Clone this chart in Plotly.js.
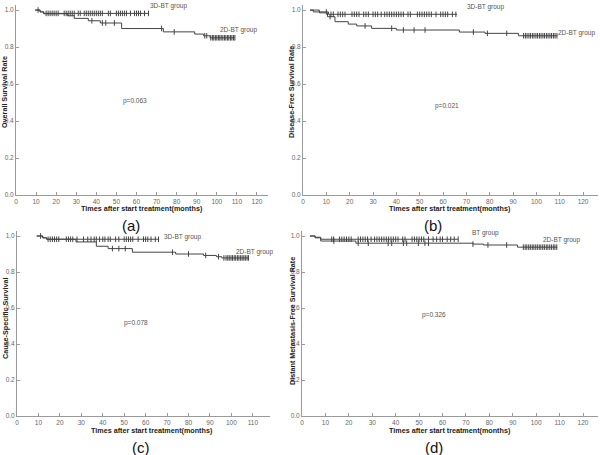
<!DOCTYPE html>
<html><head><meta charset="utf-8">
<script src="https://cdn.plot.ly/plotly-3.0.1.min.js"></script>
<style>html,body{margin:0;padding:0;background:#fff}#chart{width:600px;height:455px}</style>
</head><body><div id="chart"></div>
<script>
// ---- Panel (a): Overall Survival ----
const a3dTimes = [9.5, 12, 13.8, 66];
const a3dSurv  = [1.0, 0.99, 0.982, 0.982];
const a3dCens  = [11,15,16,17,18,19,20,21,24,25,26,27,28,29,31,32,34,35,36,37,38,39,40,41,42,43,46,47,50,51,52,53,54,55,57,59,60,61,62,64,66];
const a2dTimes = [9.5, 12, 13.8, 25.7, 29, 36, 42, 52.6, 73.4, 89, 93.4, 96.6, 109];
const a2dSurv  = [1.0, 0.99, 0.98, 0.969, 0.955, 0.942, 0.93, 0.9, 0.882, 0.87, 0.861, 0.85, 0.85];
const a2dCens  = [37.8,43,44.7,49,72.5,78.8,94,95,97,97.8,98.5,99.3,100,100.8,101.5,102.2,103,103.8,104.5,105.3,106,106.8,107.5,108.3,109];
// ---- Panel (b): Disease-Free Survival ----
const b3dTimes = [3, 4.4, 10.9, 66];
const b3dSurv  = [1.0, 0.99, 0.977, 0.977];
const b3dCens  = [10,12,13,15,16,17,18,21,22,23,24,26,27,28,30,31,32,33.5,35,36,37,38,39,40,41,42,43,45,46,49,50,51,52,53,54,55,57,59,60,61,62,64,65.5];
const b2dTimes = [3, 7, 10.5, 13.7, 19.4, 23, 29.4, 40, 67, 78, 92.3, 109];
const b2dSurv  = [1.0, 0.985, 0.964, 0.937, 0.924, 0.914, 0.901, 0.892, 0.881, 0.874, 0.861, 0.861];
const b2dCens  = [11.6,26.6,38,43,47.6,52.3,73,79,87.3,94.5,95.3,96,96.8,97.5,98.3,99,99.8,100.5,101.3,102,102.8,103.5,104.3,105,105.8,106.5,107.3,108,108.8];
// ---- Panel (c): Cause-Specific Survival ----
const c3dTimes = [9.2, 12, 13.8, 66.3];
const c3dSurv  = [1.0, 0.99, 0.982, 0.982];
const c3dCens  = [14.5,15.5,16.5,17.5,18.5,19.5,23,24,25,26,28,31,33,34.5,36,37,38.5,40,41,42.5,43.5,46,47.5,50,51,52,53,54,56.5,59,60,61,62.5,64.5,66];
const c2dTimes = [9.2, 12, 13.8, 27.5, 37, 42.5, 53.8, 74, 87, 93, 95.5, 108];
const c2dSurv  = [1.0, 0.99, 0.982, 0.967, 0.943, 0.93, 0.91, 0.9, 0.892, 0.885, 0.878, 0.878];
const c2dCens  = [11,44.5,47.5,50.5,72.5,80,88,94,96.5,97.5,98.3,99,99.8,100.5,101.3,102,102.8,103.5,104.3,105,105.8,106.5,107.3,108];
// ---- Panel (d): Distant Metastasis-Free Survival ----
const d3dTimes = [3.4, 5.6, 8, 66.7];
const d3dSurv  = [1.0, 0.993, 0.982, 0.982];
const d3dCens  = [12.7,13.5,16,17,18,19,20,21,24,25,26,27,28,29.5,31,32,33,34,35,36,37,38,39,40,41,43,44,47,48,49,50,51,52,54,56,57.5,59,60,62,63.5,65,66.7];
const d2dTimes = [3.4, 5.6, 8, 23, 73, 77.5, 92, 109];
const d2dSurv  = [1.0, 0.99, 0.972, 0.96, 0.955, 0.95, 0.938, 0.938];
const d2dCens  = [13.6,24,28.3,36.8,38.3,43.3,44.7,49.7,52.5,54,73,79.4,87.4,94.5,95.3,96,96.8,97.5,98.3,99,99.8,100.5,101.3,102,102.8,103.5,104.3,105,105.8,106.5,107.3,108,108.8];

const yTitles = ["Overall Survival Rate","Disease-Free Survival Rate","Cause-Specific Survival","Distant Metastasis-Free Survival Rate"];
const xTitle = "Times after start treatment(months)";
const panelLabels = ["(a)","(b)","(c)","(d)"];
const pValues = ["p=0.063","p=0.021","p=0.078","p=0.326"];
const groupA = ["3D-BT group","3D-BT group","3D-BT group","BT group"];
const groupB = ["2D-BT group","2D-BT group","2D-BT group","2D-BT group"];

function stepAt(times, surv, t){
  let v = surv[0];
  for(let i=0;i<times.length;i++){ if(times[i] <= t) v = surv[i]; }
  return v;
}

const W=600,H=455;
// pixel geometry of each panel: [x0px, x1px, xmax, yBottomPx, yTopPx]
const geo = [
  [16, 268, 125.5, 195, 4.5],
  [303, 598, 126.4, 195, 4.5],
  [17, 270, 118, 416, 230.6],
  [302, 598, 126.4, 416, 230.6]
];
const panels = [
  [a3dTimes,a3dSurv,a3dCens,a2dTimes,a2dSurv,a2dCens],
  [b3dTimes,b3dSurv,b3dCens,b2dTimes,b2dSurv,b2dCens],
  [c3dTimes,c3dSurv,c3dCens,c2dTimes,c2dSurv,c2dCens],
  [d3dTimes,d3dSurv,d3dCens,d2dTimes,d2dSurv,d2dCens]
];
const lineCol = '#444';
const traces = [];
const layout = {
  width:W, height:H, margin:{l:0,r:0,t:0,b:0},
  paper_bgcolor:'#fff', plot_bgcolor:'#fff', showlegend:false,
  font:{family:'Liberation Sans, Arial, sans-serif', color:'#555'},
  annotations:[]
};
panels.forEach((p,i)=>{
  const n = i===0 ? '' : String(i+1);
  const xa = 'x'+n, ya = 'y'+n;
  const [x0,x1,xmax,yb,yt] = geo[i];
  const [t3,s3,c3,t2,s2,c2] = p;
  [[t2,s2,c2],[t3,s3,c3]].forEach(([t,s,c])=>{
    traces.push({x:t,y:s,xaxis:xa,yaxis:ya,mode:'lines',line:{shape:'hv',color:lineCol,width:1},hoverinfo:'skip'});
    traces.push({x:c,y:c.map(v=>stepAt(t,s,v)),xaxis:xa,yaxis:ya,mode:'markers',
      marker:{symbol:'line-ns',size:4,line:{color:lineCol,width:1}},hoverinfo:'skip'});
  });
  const axBase = {showline:true,linecolor:'#9a9a9a',linewidth:1,ticks:'inside',ticklen:3,tickcolor:'#9a9a9a',
    tickfont:{size:6.5,color:'#666'},showgrid:false,zeroline:false,fixedrange:true};
  layout['xaxis'+n] = Object.assign({},axBase,{domain:[x0/W,x1/W],range:[0,xmax],tick0:0,dtick:10,anchor:ya});
  layout['yaxis'+n] = Object.assign({},axBase,{domain:[1-yb/H,1-yt/H],range:[0,1.03],tick0:0,dtick:0.2,tickformat:'.1f',anchor:xa});
});
const ann = layout.annotations;
const txt = (text,x,y,size,opts)=>ann.push(Object.assign({text:text,x:x/W,y:1-y/H,xref:'paper',yref:'paper',showarrow:false,
  xanchor:'center',yanchor:'middle',font:{size:size,color:'#555',family:'Liberation Sans, Arial, sans-serif'}},opts||{}));
const xtPos = [[142,209],[450,209],[152,430],[450,430]];
const ytPos = [[5,92],[292,92],[5,318],[292,321]];
const plPos = [[131,225],[433,225],[141,447],[434,447]];
const pvPos = [[135,101],[447,106],[136,323],[434,315]];
const gaPos = [[168,6],[485,7],[182,237],[485,233]];
const gbPos = [[238,30],[576,33],[254,252],[561,240]];
for(let i=0;i<4;i++){
  txt('<b>'+xTitle+'</b>',xtPos[i][0],xtPos[i][1],7.2,{font:{size:7.2,color:'#222',family:'Liberation Sans, Arial, sans-serif'}});
  txt('<b>'+yTitles[i]+'</b>',ytPos[i][0],ytPos[i][1],7.2,{textangle:-90,font:{size:7.2,color:'#222',family:'Liberation Sans, Arial, sans-serif'}});
  txt(panelLabels[i],plPos[i][0],plPos[i][1],15,{font:{size:15,color:'#111',family:'Liberation Sans, Arial, sans-serif'}});
  txt(pValues[i],pvPos[i][0],pvPos[i][1],6.5);
  txt(groupA[i],gaPos[i][0],gaPos[i][1],6.5);
  txt(groupB[i],gbPos[i][0],gbPos[i][1],6.5);
}
Plotly.newPlot('chart',traces,layout,{staticPlot:true,displayModeBar:false});
</script></body></html>
